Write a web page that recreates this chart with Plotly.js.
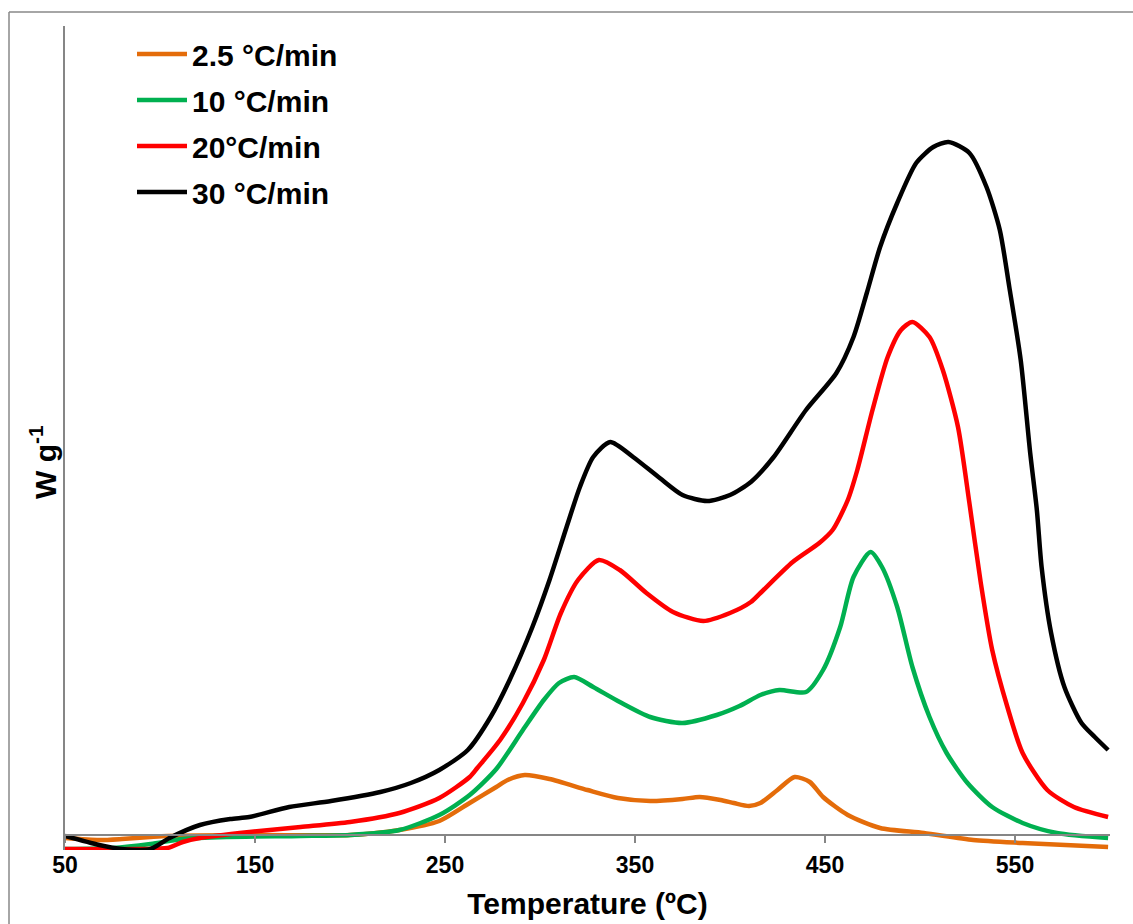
<!DOCTYPE html>
<html>
<head>
<meta charset="utf-8">
<script src="https://cdn.plot.ly/plotly-3.0.1.min.js"></script>
<style>html,body{margin:0;padding:0;background:#fff;}#chart{width:1133px;height:924px;}</style>
</head>
<body>
<div id="chart"></div>
<script>
// Series names
const seriesNames = ["2.5 °C/min", "10 °C/min", "20°C/min", "30 °C/min"];
const seriesColors = ["#E46C0A", "#00B050", "#FF0000", "#000000"];

// 2.5 °C/min
const tOrange = [50, 68, 80, 95, 104, 150, 200, 226, 247, 263, 277, 283, 292, 305, 325, 341, 358, 375, 384, 395, 402, 410, 416, 425, 434, 442, 449, 462, 479, 502, 528, 554, 599];
const vOrange = [-0.03, -0.05, -0.04, -0.02, -0.01, 0.00, 0.00, 0.05, 0.14, 0.32, 0.48, 0.55, 0.60, 0.56, 0.45, 0.37, 0.34, 0.36, 0.38, 0.35, 0.32, 0.29, 0.32, 0.45, 0.58, 0.53, 0.38, 0.20, 0.07, 0.02, -0.05, -0.08, -0.12];

// 10 °C/min
const tGreen = [50, 75, 95, 112, 135, 174, 200, 226, 247, 263, 277, 291, 302, 310, 318, 328, 342, 358, 375, 393, 405, 416, 426, 440, 449, 458, 465, 474, 480, 488, 496, 505, 514, 525, 538, 554, 572, 599];
const vGreen = [-0.14, -0.13, -0.09, -0.04, -0.02, -0.01, 0.00, 0.05, 0.20, 0.40, 0.66, 1.05, 1.35, 1.52, 1.58, 1.48, 1.33, 1.18, 1.12, 1.20, 1.29, 1.40, 1.45, 1.43, 1.65, 2.08, 2.58, 2.83, 2.68, 2.28, 1.68, 1.18, 0.82, 0.52, 0.28, 0.12, 0.02, -0.03];

// 20 °C/min
const tRed = [50, 90, 104, 112, 121, 147, 174, 200, 226, 247, 263, 267, 279, 291, 302, 311, 320, 331, 342, 356, 370, 386, 400, 411, 416, 433, 447, 454, 462, 467, 475, 483, 490, 496, 505, 512, 520, 526, 532, 538, 546, 554, 567, 581, 599];
const vRed = [-0.14, -0.14, -0.13, -0.07, -0.03, 0.03, 0.08, 0.13, 0.22, 0.37, 0.58, 0.67, 0.95, 1.32, 1.75, 2.22, 2.55, 2.75, 2.65, 2.42, 2.23, 2.14, 2.22, 2.33, 2.42, 2.73, 2.92, 3.05, 3.35, 3.65, 4.25, 4.78, 5.05, 5.13, 4.98, 4.65, 4.08, 3.32, 2.52, 1.85, 1.28, 0.82, 0.45, 0.28, 0.18];

// 30 °C/min
const tBlack = [50, 68, 80, 95, 105, 121, 137, 147, 168, 190, 216, 232, 247, 262, 274, 284, 296, 305, 314, 321, 328, 337, 349, 363, 375, 388, 400, 411, 423, 440, 456, 465, 472, 479, 488, 498, 507, 515, 526, 535, 542, 547, 553, 558, 561.5, 564, 569, 576, 585, 592, 599];
const vBlack = [-0.01, -0.10, -0.14, -0.14, -0.03, 0.10, 0.16, 0.18, 0.28, 0.34, 0.43, 0.52, 0.65, 0.85, 1.18, 1.55, 2.08, 2.55, 3.08, 3.48, 3.78, 3.93, 3.78, 3.57, 3.40, 3.34, 3.40, 3.53, 3.78, 4.25, 4.62, 4.98, 5.42, 5.88, 6.32, 6.72, 6.88, 6.93, 6.82, 6.48, 6.05, 5.48, 4.75, 3.82, 3.25, 2.68, 2.02, 1.48, 1.12, 0.98, 0.85];

const xTicks = [50, 150, 250, 350, 450, 550];

const xs = [tOrange, tGreen, tRed, tBlack];
const ys = [vOrange, vGreen, vRed, vBlack];

const traces = xs.map((x, i) => ({
  x: x, y: ys[i], type: 'scatter', mode: 'lines', name: seriesNames[i],
  legendgroup: 'g' + i,
  line: {color: seriesColors[i], width: 4.5, shape: 'spline', smoothing: 0.7}
}));

const FONT = 'Liberation Sans, Arial, sans-serif';
const axisGray = '#868686';

// plot area in px: left 65, right 1110, top 26, bottom 850
const W = 1045, H = 824;
const px2x = p => (p - 65) / W;
const py2y = p => (850 - p) / H;

const layout = {
  width: 1133, height: 924,
  margin: {l: 65, r: 23, t: 26, b: 74},
  paper_bgcolor: '#ffffff', plot_bgcolor: '#ffffff',
  font: {family: FONT, color: '#000000'},
  showlegend: true,
  legend: {
    x: px2x(132), y: py2y(28), xanchor: 'left', yanchor: 'top',
    bgcolor: 'rgba(0,0,0,0)', borderwidth: 0,
    font: {family: FONT, size: 30, weight: 'bold', color: '#000'},
    itemwidth: 50, tracegroupgap: 4
  },
  xaxis: {
    range: [50, 600], tickvals: xTicks, ticktext: xTicks.map(String),
    showgrid: false, zeroline: false,
    showline: true, linecolor: axisGray, linewidth: 2,
    ticks: 'outside', ticklen: 7, tickwidth: 1.5, tickcolor: axisGray,
    anchor: 'free', position: py2y(835),
    ticklabelstandoff: 2,
    tickfont: {family: FONT, size: 23, weight: 'bold', color: '#000'},
    title: {text: 'Temperature (ºC)', font: {family: FONT, size: 30, weight: 'bold', color: '#000'}, standoff: 15}
  },
  yaxis: {
    range: [-0.15, 8.09],
    showgrid: false, zeroline: false,
    showline: true, linecolor: axisGray, linewidth: 2,
    ticks: '', showticklabels: false
  },
  annotations: [
    {xref: 'paper', yref: 'paper', x: px2x(43), y: py2y(462), xanchor: 'center', yanchor: 'middle',
     text: 'W g<sup>-1</sup>', textangle: -90, showarrow: false,
     font: {family: FONT, size: 30, weight: 'bold', color: '#000'}}
  ],
  shapes: [
    {type: 'line', xref: 'paper', yref: 'paper', x0: px2x(9), x1: px2x(1140), y0: py2y(12), y1: py2y(12), line: {color: '#898989', width: 1.5}},
    {type: 'line', xref: 'paper', yref: 'paper', x0: px2x(9), x1: px2x(9), y0: py2y(12), y1: py2y(930), line: {color: '#898989', width: 1.5}}
  ]
};

Plotly.newPlot('chart', traces, layout, {displayModeBar: false, staticPlot: true});
</script>
</body>
</html>
